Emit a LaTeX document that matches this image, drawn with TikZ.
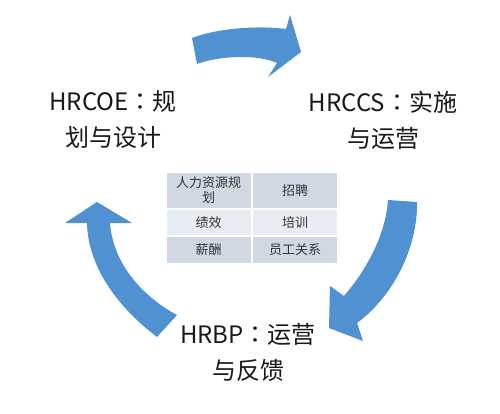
\documentclass[tikz,border=0pt]{standalone}
\usepackage{fontspec}
\newfontfamily\cjk{Noto Sans CJK SC}
\newfontfamily\cjktc{Noto Sans CJK TC}
\newcommand{\wcolon}{{\cjktc ：}}
\definecolor{arrowblue}{RGB}{80,145,210}
\definecolor{rowdark}{RGB}{208,216,228}
\definecolor{rowlight}{RGB}{232,237,244}

\begin{document}
\begin{tikzpicture}[x=1pt, y=-1pt, every node/.style={inner sep=0pt},
  role/.style={font=\cjk\fontsize{24}{36}\selectfont, align=center, text=black!90},
  cell/.style={font=\cjk\fontsize{13}{15}\selectfont, align=center, text=black!80, minimum width=84pt}]
\useasboundingbox[fill=white] (0,0) rectangle (500,413);
\fill[arrowblue] (192,38) .. controls (215,29) and (255,25) .. (286,29) -- (290,15) -- (301,52)
  -- (268,77) -- (277,63) .. controls (255,53) and (215,57) .. (197,64) -- cycle;
\fill[arrowblue] (417,202) .. controls (418,245) and (395,295) .. (357,323) -- (363,341) -- (329,328)
  -- (330,286) -- (344,296) .. controls (362,275) and (385,240) .. (388,200) -- cycle;
\fill[arrowblue] (157,337) .. controls (115,305) and (88,265) .. (87,223) -- (65,223) -- (97,202)
  -- (132,223) -- (110,223) .. controls (113,262) and (140,295) .. (177,315) -- cycle;
\node[cell, fill=rowdark, minimum height=35pt] (plan) at (208.5,190.5) {人力资源规\\划};
\node[cell, fill=rowdark, minimum height=35pt] (recruit) at (295,190.5) {招聘};
\node[cell, fill=rowlight, minimum height=25pt] (perf) at (208.5,222.5) {绩效};
\node[cell, fill=rowlight, minimum height=25pt] (train) at (295,222.5) {培训};
\node[cell, fill=rowdark, minimum height=26pt] (pay) at (208.5,250) {薪酬};
\node[cell, fill=rowdark, minimum height=26pt] (relation) at (295,250) {员工关系};
\node[role] (coe) at (113,120) {HRCOE\wcolon 规\\划与设计};
\node[role] (ccs) at (383,120) {HRCCS\wcolon 实施\\与运营};
\node[role] (bp) at (248,352) {HRBP\wcolon 运营\\与反馈};
\end{tikzpicture}
\end{document}
